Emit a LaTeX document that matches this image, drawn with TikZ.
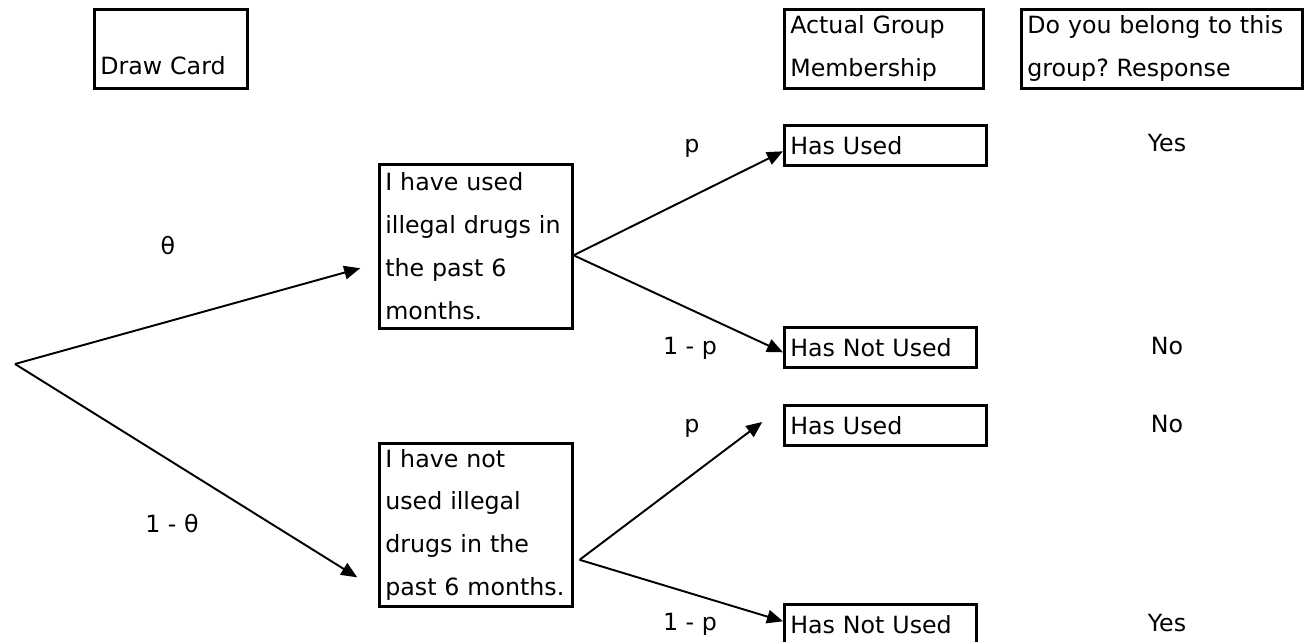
\documentclass[tikz,border=0pt]{standalone}
\usepackage{fontspec}
\setmainfont{DejaVu Sans}
\usetikzlibrary{arrows.meta}
\frenchspacing

\begin{document}
\begin{tikzpicture}[x=0.02cm,y=-0.02cm,>={Triangle[length=0.32cm,width=0.27cm]},
    box node/.style={draw,line width=1.5pt,anchor=north west,align=left,inner xsep=0.12cm,inner ysep=0pt,font={\fontsize{13.5}{24.4}\selectfont}},
    text node/.style={anchor=base,font={\fontsize{13.5}{24.4}\selectfont}}]

            \useasboundingbox (0,0) rectangle (1309,642);

            \node[box node, text width=2.82cm, minimum height=1.58cm] (card) at (93,8) {~\\[5pt]Draw Card};
            \node[box node, text width=3.74cm, minimum height=1.58cm] (actual) at (783,8) {Actual Group\\Membership};
            \node[box node, text width=5.38cm, minimum height=1.58cm] (belong) at (1020,8) {Do you belong to this\\group? Response};

            \node[box node, text width=3.62cm, minimum height=3.28cm] (used) at (378,163) {I have used\\illegal drugs in\\the past 6\\months.};
            \node[box node, text width=3.62cm, minimum height=3.26cm] (notused) at (378,442) {I have not\\used illegal\\drugs in the\\past 6 months.};

            \node[box node, text width=3.8cm, minimum height=0.8cm] (hasused1) at (783,124) {Has Used};
            \node[box node, text width=3.6cm, minimum height=0.8cm] (hasnot1) at (783,326) {Has Not Used};
            \node[box node, text width=3.8cm, minimum height=0.8cm] (hasused2) at (783,404) {Has Used};
            \node[box node, text width=3.6cm, minimum height=0.8cm] (hasnot2) at (783,603) {Has Not Used};

            \node[text node] (theta) at (168,255) {θ};
            \node[text node] (nottheta) at (172,532) {1 - θ};
            \node[text node] (p1) at (692,153) {p};
            \node[text node] (notp1) at (690,354) {1 - p};
            \node[text node] (p2) at (692,432) {p};
            \node[text node] (notp2) at (690,630) {1 - p};

            \node[text node] (yes1) at (1167,152) {Yes};
            \node[text node] (no1) at (1167,354) {No};
            \node[text node] (no2) at (1167,432) {No};
            \node[text node] (yes2) at (1167,631) {Yes};

            \coordinate (root) at (15,364);

            \path[->,line width=1.1pt]
                (root) edge[shorten >=0.37cm] ([yshift=-0.34cm]used.west)
                (root) edge[shorten >=0.49cm] ([yshift=-1.31cm]notused.west)
                ([yshift=-0.18cm]used.east) edge ([yshift=-0.12cm]hasused1.west)
                ([yshift=-0.18cm]used.east) edge ([yshift=-0.1cm]hasnot1.west)
                ([xshift=0.12cm,yshift=-0.7cm]notused.east) edge[shorten >=0.52cm] ([yshift=0.38cm]hasused2.west)
                ([xshift=0.12cm,yshift=-0.7cm]notused.east) edge ([yshift=0.06cm]hasnot2.west)
                ;
        \end{tikzpicture}
\end{document}
